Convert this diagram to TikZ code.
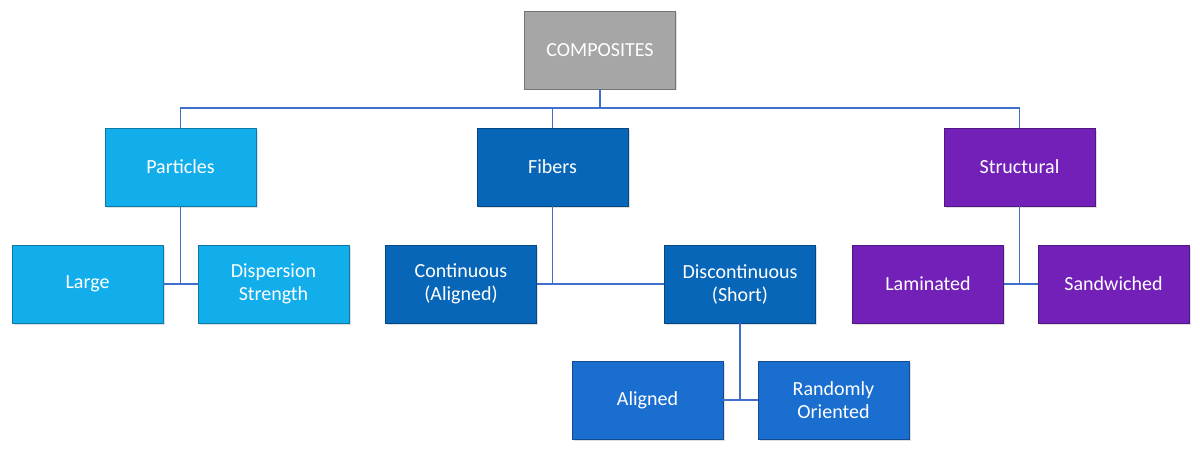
\documentclass[tikz,border=0pt]{standalone}
\usepackage{fontspec}
\setmainfont{Carlito}
\usetikzlibrary{shadows}
\definecolor{cgray}{HTML}{A6A6A6}
\definecolor{clight}{HTML}{12AEEC}
\definecolor{cdark}{HTML}{0866B8}
\definecolor{cmid}{HTML}{1A6ED0}
\definecolor{cpur}{HTML}{7320B8}
\definecolor{cline}{HTML}{3F6FC8}
\begin{document}
\begin{tikzpicture}[x=1pt,y=-1pt,
 box/.style={draw=#1!70!black,line width=0.8pt,fill=#1,minimum width=151pt,minimum height=78pt,text=white,align=center,font=\fontsize{20}{23}\selectfont,inner sep=0pt,drop shadow={opacity=0.25,shadow xshift=1.5pt,shadow yshift=-1.5pt}},
 con/.style={draw=cline,line width=1.2pt}]
\useasboundingbox (0,0) rectangle (1200,452);
\node[box=cgray] (comp) at (600,50) {COMPOSITES};
\node[box=clight] (part) at (180.5,167) {Particles};
\node[box=cdark] (fib) at (552.5,167) {Fibers};
\node[box=cpur] (str) at (1019.5,167) {Structural};
\node[box=clight] (large) at (87.5,284) {Large};
\node[box=clight] (disp) at (273.5,284) {Dispersion\\Strength};
\node[box=cdark] (cont) at (461,284) {Continuous\\(Aligned)};
\node[box=cdark] (disc) at (740,284) {Discontinuous\\(Short)};
\node[box=cmid] (al) at (647.5,400) {Aligned};
\node[box=cmid] (rand) at (833.5,400) {Randomly\\Oriented};
\node[box=cpur] (lam) at (928,284) {Laminated};
\node[box=cpur] (sand) at (1113.5,284) {Sandwiched};
\coordinate (j) at (600,108);
\draw[con] (comp.south) -- (j);
\draw[con] (part.north) |- (str.north |- j) -- (str.north);
\draw[con] (fib.north) -- (fib.north |- j);
\draw[con] (large.east) -- (disp.west);
\draw[con] (part.south) -- (part.south |- large.east);
\draw[con] (cont.east) -- (disc.west);
\draw[con] (fib.south) -- (fib.south |- cont.east);
\draw[con] (lam.east) -- (sand.west);
\draw[con] (str.south) -- (str.south |- lam.east);
\draw[con] (al.east) -- (rand.west);
\draw[con] (disc.south) -- (disc.south |- al.east);
\end{tikzpicture}
\end{document}
